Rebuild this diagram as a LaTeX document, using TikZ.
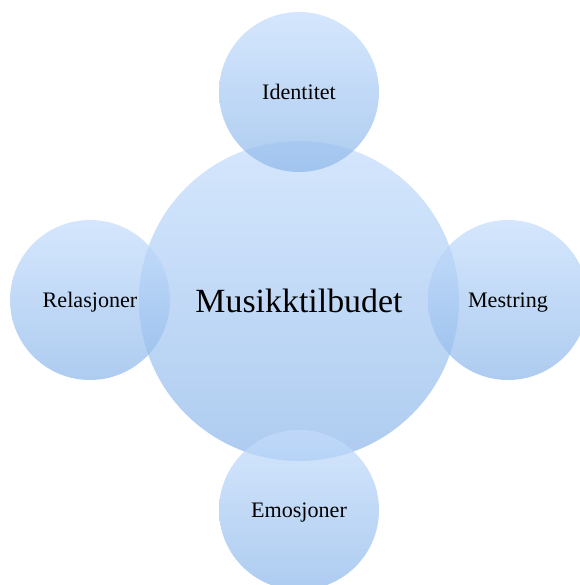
\documentclass[tikz,border=0pt]{standalone}
\usepackage{fontspec}
\setmainfont{Liberation Serif}
\begin{document}
\begin{tikzpicture}[x=1bp,y=1bp,
  bubble/.style={circle, inner sep=0pt, draw=none, text depth=0pt,
    top color=bubbletop, bottom color=bubblebottom,
    fill opacity=0.72, text opacity=1, text=black},
  hub/.style={bubble, minimum size=320bp, font=\fontsize{34}{40}\selectfont},
  leaf/.style={bubble, minimum size=160bp, font=\fontsize{22.2}{27}\selectfont}]
\definecolor{bubbletop}{RGB}{197,221,252}
\definecolor{bubblebottom}{RGB}{142,184,234}
\useasboundingbox (0,0) rectangle (580,585);
% central concept
\node[hub] (hub) at (299,284) {Musikktilbudet};
% surrounding themes
\node[leaf] (top) at (299,493) {Identitet};
\node[leaf] (left) at (90,285) {Relasjoner};
\node[leaf] (right) at (508,285) {Mestring};
\node[leaf] (bottom) at (299,75) {Emosjoner};
\end{tikzpicture}
\end{document}
